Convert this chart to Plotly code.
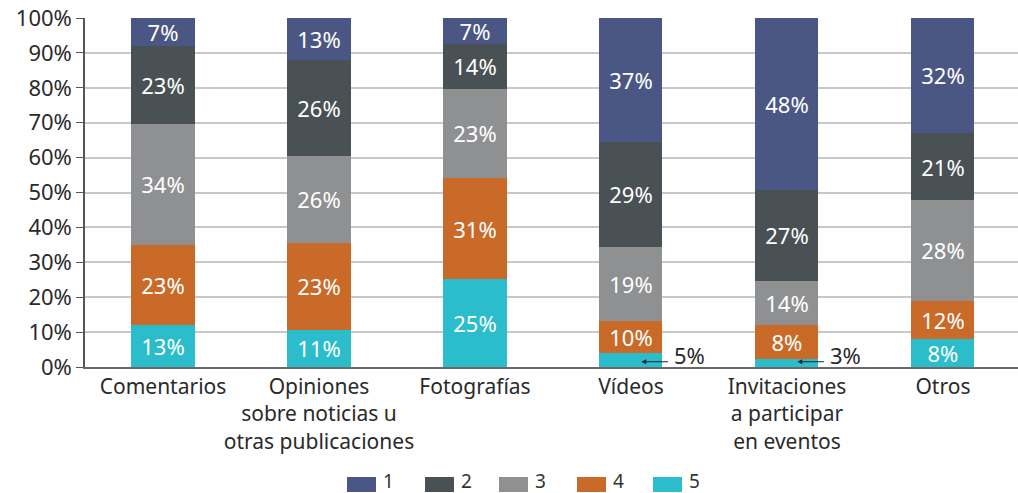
import plotly.graph_objects as go

categories = ["Comentarios", "Opiniones<br>sobre noticias u<br>otras publicaciones", "Fotografías",
              "Vídeos", "Invitaciones<br>a participar<br>en eventos", "Otros"]
series_names = ["1", "2", "3", "4", "5"]

# bar heights (percent of each bar)
s1 = [8.0, 12.0, 7.4, 35.5, 49.2, 32.9]
s2 = [22.3, 27.5, 12.9, 30.1, 26.1, 19.3]
s3 = [34.7, 24.9, 25.5, 21.1, 12.6, 28.8]
s4 = [23.1, 24.9, 29.1, 9.2, 9.7, 10.9]
s5 = [11.9, 10.7, 25.1, 4.1, 2.4, 8.1]

# printed labels
l1 = [7, 13, 7, 37, 48, 32]
l2 = [23, 26, 14, 29, 27, 21]
l3 = [34, 26, 23, 19, 14, 28]
l4 = [23, 23, 31, 10, 8, 12]
l5 = [13, 11, 25, 5, 3, 8]

outside_idx = [3, 4]  # labels of series 5 drawn outside with arrows

y_ticks = [0, 10, 20, 30, 40, 50, 60, 70, 80, 90, 100]

colors = {"1": "#4a5784", "2": "#4a5154", "3": "#8f9092", "4": "#c96a28", "5": "#2bbdcc"}
FONT = "Noto Sans"

FW, FH = 1018, 493
L, W = 85, 933
top, H = 18, 349

fig = go.Figure()
series = [("5", s5, l5), ("4", s4, l4), ("3", s3, l3), ("2", s2, l2), ("1", s1, l1)]
for name, vals, labs in series:
    txt = []
    for i, v in enumerate(labs):
        if name == "5" and i in outside_idx:
            txt.append("")
        else:
            txt.append(f"{v}%")
    fig.add_trace(go.Bar(
        x=list(range(len(categories))), y=vals, name=name,
        marker=dict(color=colors[name], line=dict(width=0)),
        text=txt, textposition="inside", insidetextanchor="middle",
        textangle=0, constraintext="none",
        textfont=dict(family=FONT, size=22, color="white"),
        showlegend=False, hoverinfo="skip",
    ))

# arrows + outside labels
for i in outside_idx:
    fig.add_annotation(x=i + 0.067, y=1.5, xref="x", yref="y", text="",
                       showarrow=True, ax=28, ay=0, axref="pixel", ayref="pixel",
                       arrowhead=2, arrowsize=0.8, arrowwidth=1.2, arrowcolor="#222222")
    fig.add_annotation(x=i + 0.262, y=3.5, xref="x", yref="y", text=f"{l5[i]}%",
                       showarrow=False, xanchor="left", yanchor="middle",
                       font=dict(family=FONT, size=22, color="#2a2a2a"))

# manual legend (wide swatches); pixel coords converted to paper coords
def px2paper(xp, yp):
    return (xp - L) / W, (top + H - yp) / H

leg_x = [347, 425, 499, 577, 653]
for k, name in enumerate(series_names):
    x0, y0 = px2paper(leg_x[k], 477)
    x1, y1 = px2paper(leg_x[k] + 29, 492)
    fig.add_shape(type="rect", xref="paper", yref="paper", x0=x0, x1=x1, y0=y1, y1=y0,
                  fillcolor=colors[name], line=dict(width=0))
    tx, ty = px2paper(leg_x[k] + 35, 481.5)
    fig.add_annotation(x=tx, y=ty, xref="paper", yref="paper", text=name, showarrow=False,
                       xanchor="left", yanchor="middle", borderpad=0,
                       font=dict(family=FONT, size=19, color="#333333"))

fig.update_layout(
    width=FW, height=FH,
    margin=dict(l=L, r=FW - L - W, t=top, b=FH - top - H, autoexpand=False),
    barmode="stack", bargap=0.596,
    plot_bgcolor="white", paper_bgcolor="white",
    font=dict(family=FONT, color="#333333"),
)
fig.update_xaxes(
    tickmode="array", tickvals=list(range(len(categories))), ticktext=categories,
    range=[-0.5, 5.481], showgrid=False, showline=True, linecolor="#6a6a6a", linewidth=1.5,
    ticks="", tickangle=0, automargin=False,
    tickfont=dict(family=FONT, size=21, color="#2a2a2a"), zeroline=False,
)
fig.update_yaxes(
    range=[0, 100], tickvals=y_ticks, ticktext=[f"{v}%" for v in y_ticks],
    showgrid=True, gridcolor="#c8c8c8", gridwidth=1.5, automargin=False,
    showline=True, linecolor="#555555", linewidth=1.5,
    ticks="outside", ticklen=7, tickcolor="#555555", ticklabeloverflow="allow",
    tickfont=dict(family=FONT, size=22, color="#2a2a2a"), zeroline=False,
)

fig.write_html("out.html", config={"displayModeBar": False},
               post_script="document.body.style.margin='0';document.body.style.overflow='hidden';")
